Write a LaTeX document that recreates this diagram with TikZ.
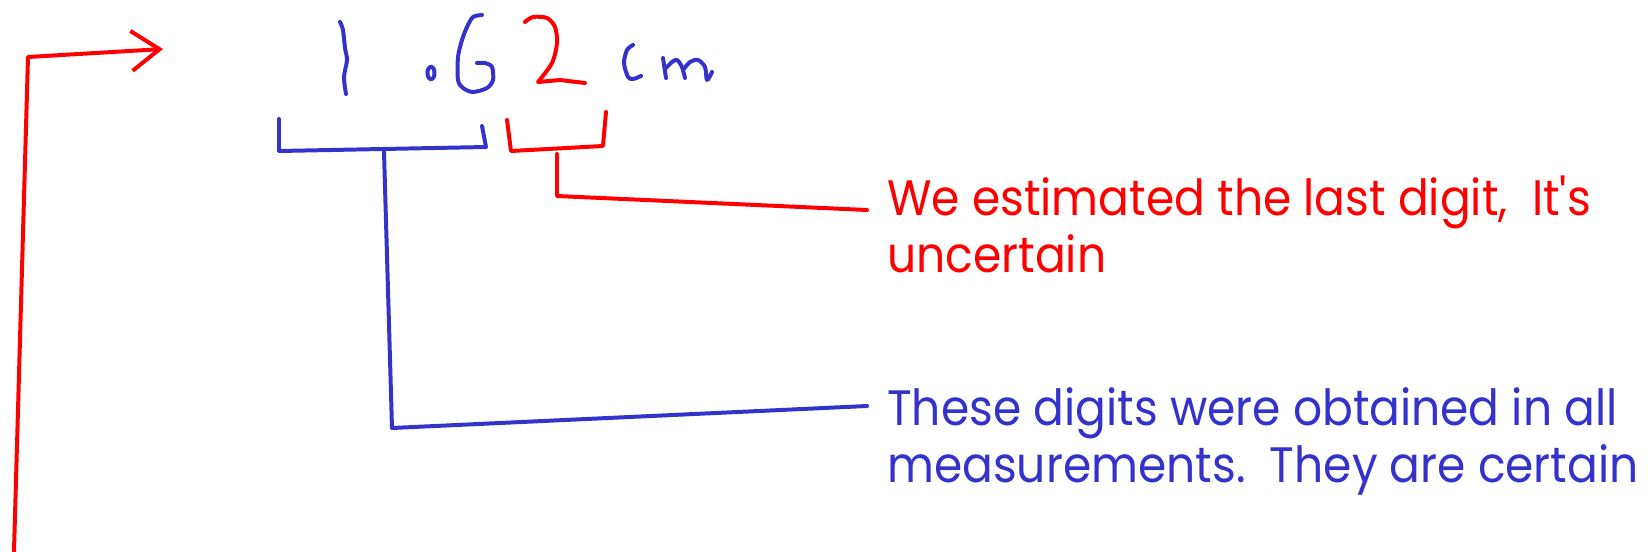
\documentclass[tikz,border=0pt]{standalone}
\usepackage{fontspec}
\setmainfont{Poppins}[Ligatures=TeXOff]
\usetikzlibrary{arrows.meta}
\definecolor{inkred}{RGB}{255,0,0}
\definecolor{inkblue}{RGB}{51,51,204}
\newcommand{\narrow}[1]{\scalebox{0.915}[1]{#1}}
\begin{document}
\begin{tikzpicture}[x=0.03cm,y=-0.03cm,
  pen/.style={line width=3.4pt,line cap=round,line join=round},
  redpen/.style={pen,draw=inkred},
  bluepen/.style={pen,draw=inkblue},
  label/.style={anchor=base west,inner sep=0pt,font=\fontsize{42.5pt}{48pt}\selectfont}]
\useasboundingbox (0,0) rectangle (1648,551);
% red arrow
\coordinate (abot) at (14,551);
\coordinate (acorner) at (28,57);
\coordinate (atip) at (163,49);
\draw[redpen,-{Straight Barb[length=24pt,width=34pt]}] (abot) -- (acorner) -- (atip);
% handwritten number
\draw[bluepen] plot[smooth] coordinates {(340,22) (343,30) (345,48) (347,60) (344,77) (346,94)};
\draw[bluepen] (431,73) ellipse [x radius=3.5, y radius=6.5];
\draw[bluepen] plot[smooth] coordinates {(482,15) (473,17) (467,27) (462,40) (458,57) (458,80) (463,88) (473,92) (487,88) (493,80) (492,67) (485,63) (477,63)};
\draw[redpen] plot[smooth] coordinates {(525,22) (533,17) (547,18) (555,27) (557,43) (552,63) (538,82)} -- (560,80) -- (585,83);
\draw[bluepen] plot[smooth] coordinates {(633,45) (627,50) (624,63) (628,77) (633,79) (641,76)};
\draw[bluepen] (663,58) -- (666,78);
\draw[bluepen] plot[smooth] coordinates {(666,68) (672,62) (677,60) (682,67) (685,78)};
\draw[bluepen] plot[smooth] coordinates {(683,70) (690,62) (698,60) (705,67) (707,80) (712,72)};
% brackets
\coordinate (bb1) at (279,119);
\coordinate (bb2) at (279,151);
\coordinate (bb3) at (486,147);
\coordinate (bb4) at (482,126);
\draw[bluepen] (bb1) -- (bb2) -- (bb3) -- (bb4);
\coordinate (rb1) at (507,120);
\coordinate (rb2) at (511,151);
\coordinate (rb3) at (603,146);
\coordinate (rb4) at (606,112);
\draw[redpen] (rb1) -- (rb2) -- (rb3) -- (rb4);
% texts
\node[label,text=inkred] (red1) at (887,215) {\narrow{We estimated the last digit,\ \ It's}};
\node[label,text=inkred] (red2) at (887,272) {\narrow{uncertain}};
\node[label,text=inkblue] (blue1) at (887,425) {\narrow{These digits were obtained in all}};
\node[label,text=inkblue] (blue2) at (887,482) {\narrow{measurements.\ \ They are certain}};
% leaders
\coordinate (rs1) at (557,154);
\coordinate (rs2) at (557,196);
\coordinate (rend) at (867,210);
\draw[redpen] (rs1) -- (rs2) -- (rend);
\coordinate (bs1) at (384,152);
\coordinate (bs2) at (392,428);
\coordinate (bend) at (867,406);
\draw[bluepen] (bs1) -- (bs2) -- (bend);
\end{tikzpicture}
\end{document}
